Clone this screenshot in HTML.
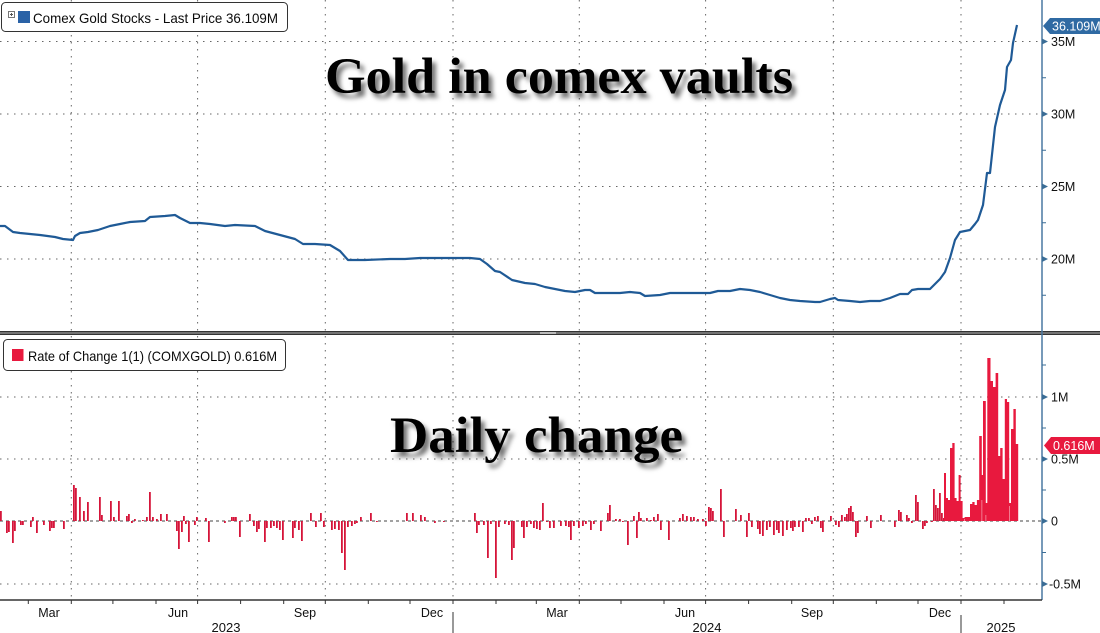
<!DOCTYPE html>
<html><head><meta charset="utf-8"><style>
html,body{margin:0;padding:0;background:#fff;width:1100px;height:633px;overflow:hidden}
svg{display:block}
text{font-family:"Liberation Sans",sans-serif}
</style></head><body>
<svg width="1100" height="633" viewBox="0 0 1100 633" xmlns="http://www.w3.org/2000/svg">
<defs>
<filter id="sh" x="-10%" y="-30%" width="130%" height="180%">
<feDropShadow dx="4" dy="5" stdDeviation="2.5" flood-color="#000" flood-opacity="0.55"/>
</filter>
</defs>
<rect width="1100" height="633" fill="#fff"/>
<!-- gridlines -->
<g stroke="#666" stroke-width="1" stroke-dasharray="1.5 5.5" fill="none">
<path d="M0,41.5H1042M0,114H1042M0,186.5H1042M0,259H1042"/>
<path d="M0,397H1042M0,459H1042M0,584H1042"/>
<path d="M71.3,0V331M197.6,0V331M325.3,0V331M453,0V331M579.3,0V331M705.6,0V331M833.3,0V331M961,0V331"/>
<path d="M71.3,336V600M197.6,336V600M325.3,336V600M453,336V600M579.3,336V600M705.6,336V600M833.3,336V600M961,336V600"/>
</g>
<path d="M0,521H1042" stroke="#444" stroke-width="1" stroke-dasharray="3 3"/>
<!-- titles -->
<text x="325" y="93" font-weight="bold" font-size="51" textLength="468" lengthAdjust="spacingAndGlyphs" fill="#000" filter="url(#sh)" style="font-family:'Liberation Serif',serif">Gold in comex vaults</text>
<text x="390" y="452" font-weight="bold" font-size="51" textLength="293" lengthAdjust="spacingAndGlyphs" fill="#000" filter="url(#sh)" style="font-family:'Liberation Serif',serif">Daily change</text>
<!-- line -->
<polyline fill="none" stroke="#1f5a96" stroke-width="2.2" stroke-linejoin="round" points="0,226 5,226 13,232 20,233 40,235 55,237 63,239 73,240 75,236 80,233 88,232 98,230 110,226 120,224 130,222 145,221 150,217 165,216 175,215 180,218 190,223 200,223 210,224 225,226 235,225 255,226 265,231 280,235 295,239 303,244 315,244 330,245 340,251 348,260 365,260 390,259 405,259 420,258 470,258 480,259 487,264 495,271 500,272 512,280 525,283 535,284 545,287 555,289 565,291 575,292 585,290 590,290 595,293 620,293 630,292 640,293 645,296 660,295 670,293 700,293 710,293 718,291 730,291 740,289 750,290 760,292 770,295 780,298 790,300 800,301 815,302 820,302 830,299 835,298 838,300 850,301 860,302 870,301 880,301 890,298 900,294 908,294 912,290 918,289 930,289 935,284 940,279 945,272 950,258 955,240 960,232 970,230 975,224 978,220 983,205 987,173 990,173 995,127 1000,105 1005,90 1007,67 1011,60 1013,43 1017,25"/>
<!-- bars -->
<path fill="#d5153a" d="M0,521V511h1.8V521zM6,521V533h1.8V521zM8,521V532h1.8V521zM12,521V543h1.8V521zM14,521V531h1.8V521zM20,521V525h1.8V521zM22,521V525h1.8V521zM30,521V527h1.8V521zM32,521V517h1.8V521zM36,521V533h1.8V521zM43,521V525h1.8V521zM49,521V531h1.8V521zM51,521V528h1.8V521zM53,521V528h1.8V521zM63,521V529h1.8V521zM73,521V485h1.8V521zM75,521V488h1.8V521zM79,521V497h1.8V521zM83,521V511h1.8V521zM87,521V502h1.8V521zM99,521V497h1.8V521zM101,521V515h1.8V521zM110,521V501h1.8V521zM113,521V517h1.8V521zM118,521V501h1.8V521zM126,521V516h1.8V521zM128,521V514h1.8V521zM131,521V523h1.8V521zM134,521V519h1.8V521zM142,521V520h1.8V521zM146,521V517h1.8V521zM149,521V492h1.8V521zM152,521V517h1.8V521zM156,521V519h1.8V521zM160,521V514h1.8V521zM166,521V514h1.8V521zM176,521V531h1.8V521zM178,521V549h1.8V521zM181,521V532h1.8V521zM183,521V516h1.8V521zM185,521V524h1.8V521zM188,521V542h1.8V521zM194,521V525h1.8V521zM196,521V517h1.8V521zM205,521V518h1.8V521zM208,521V542h1.8V521zM224,521V523h1.8V521zM231,521V517h1.8V521zM233,521V517h1.8V521zM235,521V517h1.8V521zM239,521V537h1.8V521zM249,521V514h1.8V521zM253,521V526h1.8V521zM256,521V532h1.8V521zM258,521V529h1.8V521zM264,521V542h1.8V521zM266,521V528h1.8V521zM270,521V528h1.8V521zM273,521V526h1.8V521zM276,521V528h1.8V521zM279,521V530h1.8V521zM282,521V540h1.8V521zM292,521V538h1.8V521zM294,521V528h1.8V521zM298,521V530h1.8V521zM301,521V541h1.8V521zM310,521V513h1.8V521zM315,521V527h1.8V521zM320,521V513h1.8V521zM323,521V527h1.8V521zM331,521V530h1.8V521zM334,521V529h1.8V521zM338,521V530h1.8V521zM341,521V553h1.8V521zM344,521V570h1.8V521zM347,521V527h1.8V521zM351,521V526h1.8V521zM354,521V524h1.8V521zM356,521V523h1.8V521zM360,521V517h1.8V521zM370,521V513h1.8V521zM376,521V522h1.8V521zM406,521V513h1.8V521zM412,521V513h1.8V521zM420,521V515h1.8V521zM424,521V517h1.8V521zM434,521V523h1.8V521zM443,521V522h1.8V521zM474,521V513h1.8V521zM476,521V533h1.8V521zM478,521V525h1.8V521zM483,521V525h1.8V521zM487,521V558h1.8V521zM490,521V524h1.8V521zM495,521V578h1.8V521zM498,521V527h1.8V521zM504,521V524h1.8V521zM508,521V525h1.8V521zM511,521V560h1.8V521zM513,521V548h1.8V521zM521,521V527h1.8V521zM523,521V538h1.8V521zM526,521V527h1.8V521zM530,521V524h1.8V521zM533,521V528h1.8V521zM536,521V529h1.8V521zM539,521V530h1.8V521zM542,521V503h1.8V521zM546,521V522h1.8V521zM549,521V528h1.8V521zM553,521V528h1.8V521zM560,521V526h1.8V521zM565,521V526h1.8V521zM568,521V527h1.8V521zM570,521V540h1.8V521zM573,521V526h1.8V521zM578,521V528h1.8V521zM582,521V526h1.8V521zM585,521V524h1.8V521zM590,521V530h1.8V521zM593,521V524h1.8V521zM600,521V531h1.8V521zM607,521V513h1.8V521zM609,521V505h1.8V521zM615,521V519h1.8V521zM619,521V519h1.8V521zM622,521V522h1.8V521zM627,521V545h1.8V521zM633,521V516h1.8V521zM636,521V538h1.8V521zM638,521V512h1.8V521zM640,521V518h1.8V521zM646,521V518h1.8V521zM650,521V520h1.8V521zM653,521V517h1.8V521zM657,521V514h1.8V521zM660,521V530h1.8V521zM668,521V540h1.8V521zM679,521V518h1.8V521zM682,521V514h1.8V521zM686,521V516h1.8V521zM690,521V517h1.8V521zM693,521V517h1.8V521zM697,521V519h1.8V521zM702,521V519h1.8V521zM705,521V526h1.8V521zM708,521V507h1.8V521zM710,521V508h1.8V521zM712,521V511h1.8V521zM720,521V489h1.8V521zM723,521V537h1.8V521zM735,521V509h1.8V521zM740,521V515h1.8V521zM746,521V537h1.8V521zM748,521V513h1.8V521zM751,521V527h1.8V521zM757,521V529h1.8V521zM759,521V534h1.8V521zM762,521V536h1.8V521zM766,521V530h1.8V521zM769,521V527h1.8V521zM773,521V535h1.8V521zM776,521V530h1.8V521zM778,521V533h1.8V521zM782,521V536h1.8V521zM786,521V530h1.8V521zM790,521V528h1.8V521zM792,521V531h1.8V521zM794,521V527h1.8V521zM798,521V527h1.8V521zM802,521V532h1.8V521zM805,521V518h1.8V521zM808,521V518h1.8V521zM811,521V524h1.8V521zM814,521V517h1.8V521zM817,521V516h1.8V521zM820,521V528h1.8V521zM822,521V532h1.8V521zM830,521V516h1.8V521zM835,521V525h1.8V521zM838,521V527h1.8V521zM841,521V515h1.8V521zM844,521V517h1.8V521zM846,521V514h1.8V521zM848,521V508h1.8V521zM850,521V506h1.8V521zM852,521V512h1.8V521zM855,521V537h1.8V521zM857,521V533h1.8V521zM866,521V516h1.8V521zM870,521V528h1.8V521zM880,521V515h1.8V521zM894,521V527h1.8V521zM898,521V510h1.8V521zM900,521V512h1.8V521zM906,521V515h1.8V521zM908,521V518h1.8V521zM911,521V523h1.8V521zM915,521V495h1.8V521zM917,521V502h1.8V521zM922,521V529h1.8V521zM924,521V526h1.8V521zM926,521V523h1.8V521zM931,521V522h1.8V521zM933,521V489h1.8V521zM935,521V505h1.8V521zM937,521V508h1.8V521zM939,521V493h1.8V521zM941,521V513h1.8V521zM943,521V518h1.8V521z"/>
<path fill="#e8193e" d="M944,521V473h2V521zM946,521V498h2V521zM948,521V500h2V521zM950,521V448h2.3V521zM952.3,521V443h2.3V521zM954.6,521V498h2V521zM956.6,521V501h2V521zM958.6,521V475h2V521zM960.6,521V501h2V521zM962.6,521V518h2V521zM964.6,521V517h2V521zM966.6,521V517h3.4V521zM970,521V504h2.3V521zM972.3,521V502h2.3V521zM974.6,521V505h2.3V521zM976.9,521V500h2.3V521zM979.2,521V436h2.6V521zM981.8,521V475h1.2V521zM983,521V401h2.8V521zM985.8,521V503h1.5V521zM987.3,521V358h3.2V521zM990.5,521V381h2.5V521zM993,521V387h2.6V521zM995.6,521V373h2.6V521zM998.2,521V456h2V521zM1000.2,521V448h2.4V521zM1002.6,521V479h2.2V521zM1004.8,521V399h2.2V521zM1007,521V402h2.2V521zM1009.2,521V503h1.8V521zM1011,521V429h2.4V521zM1013.4,521V409h2.4V521zM1015.8,521V444h2.4V521z"/>
<g stroke="#fff" stroke-width="0.6" opacity="0.7">
<path d="M985.9,521V515M1009.3,521V506M964.6,521V519M981.9,521V500"/>
</g>
<!-- panel separator -->
<rect x="0" y="331" width="1100" height="4" fill="#8a8a8a"/>
<path d="M0,331.6H1100M0,334.4H1100" stroke="#333" stroke-width="1.3"/>
<rect x="540" y="332" width="16" height="2" fill="#bbb"/>
<!-- legends -->
<rect x="1.5" y="2.5" width="286" height="29" rx="4" fill="#fff" stroke="#333" stroke-width="1"/>
<rect x="8.5" y="11.5" width="6" height="6" fill="#fff" stroke="#777" stroke-width="1"/>
<path d="M10,14.5H13M11.5,13V16" stroke="#555" stroke-width="1"/>
<rect x="18" y="11" width="12" height="12" fill="#2a62a6"/>
<text x="33" y="23" font-size="14" fill="#0a0a0a" textLength="245" lengthAdjust="spacingAndGlyphs">Comex Gold Stocks - Last Price 36.109M</text>
<rect x="3.5" y="339.5" width="282" height="31" rx="4" fill="#fff" stroke="#333" stroke-width="1"/>
<rect x="12" y="349" width="11.5" height="12" fill="#e8193e"/>
<text x="28" y="361" font-size="14" fill="#0a0a0a" textLength="249" lengthAdjust="spacingAndGlyphs">Rate of Change 1(1) (COMXGOLD) 0.616M</text>
<!-- right axis -->
<path d="M1042,0V600" stroke="#4a78a2" stroke-width="1.5"/>
<g fill="#3a6d96">
<path d="M1042,38.5L1048,41.5L1042,44.5z M1042,111L1048,114L1042,117z M1042,183.5L1048,186.5L1042,189.5z M1042,256L1048,259L1042,262z"/>
<path d="M1042,394L1048,397L1042,400z M1042,456L1048,459L1042,462z M1042,518L1048,521L1042,524z M1042,581L1048,584L1042,587z"/>
</g>
<path d="M1042,77.75H1046M1042,150.25H1046M1042,222.75H1046M1042,295.25H1046M1042,365H1046M1042,428H1046M1042,490H1046M1042,552.5H1046" stroke="#3a6d96" stroke-width="1"/>
<g font-size="12.5" fill="#111">
<text x="1051" y="46">35M</text>
<text x="1051" y="118.5">30M</text>
<text x="1051" y="191">25M</text>
<text x="1051" y="263.5">20M</text>
<text x="1051" y="401.5">1M</text>
<text x="1051" y="463.5">0.5M</text>
<text x="1051" y="525.5">0</text>
<text x="1049" y="588.5">-0.5M</text>
</g>
<path d="M1043,26L1050,18H1100V34H1050z" fill="#2f6aa3"/>
<text x="1052" y="30.5" font-size="12.5" fill="#fff">36.109M</text>
<path d="M1044,445.5L1051,437H1100V454H1051z" fill="#e8193e"/>
<text x="1053" y="450" font-size="12.5" fill="#fff">0.616M</text>
<!-- x axis -->
<path d="M0,600H1042" stroke="#333" stroke-width="1.5"/>
<path d="M28.3,600v4M71.3,600v4M112.9,600v4M156,600v4M197.6,600v4M240.6,600v4M283.7,600v4M325.3,600v4M368.3,600v4M410,600v4M453,600v4M496,600v4M536.3,600v4M579.3,600v4M621,600v4M664,600v4M705.6,600v4M748.6,600v4M791.7,600v4M833.3,600v4M876.3,600v4M918,600v4M961,600v4M1004,600v4" stroke="#333" stroke-width="1"/>
<path d="M453,612V633M961,615V633" stroke="#333" stroke-width="1"/>
<g font-size="12.5" fill="#111" text-anchor="middle">
<text x="49" y="617">Mar</text>
<text x="178" y="617">Jun</text>
<text x="305" y="617">Sep</text>
<text x="432" y="617">Dec</text>
<text x="557" y="617">Mar</text>
<text x="685" y="617">Jun</text>
<text x="812" y="617">Sep</text>
<text x="940" y="617">Dec</text>
<text x="226" y="632" font-size="13">2023</text>
<text x="707" y="632" font-size="13">2024</text>
<text x="1001" y="632" font-size="13">2025</text>
</g>
</svg>
</body></html>
